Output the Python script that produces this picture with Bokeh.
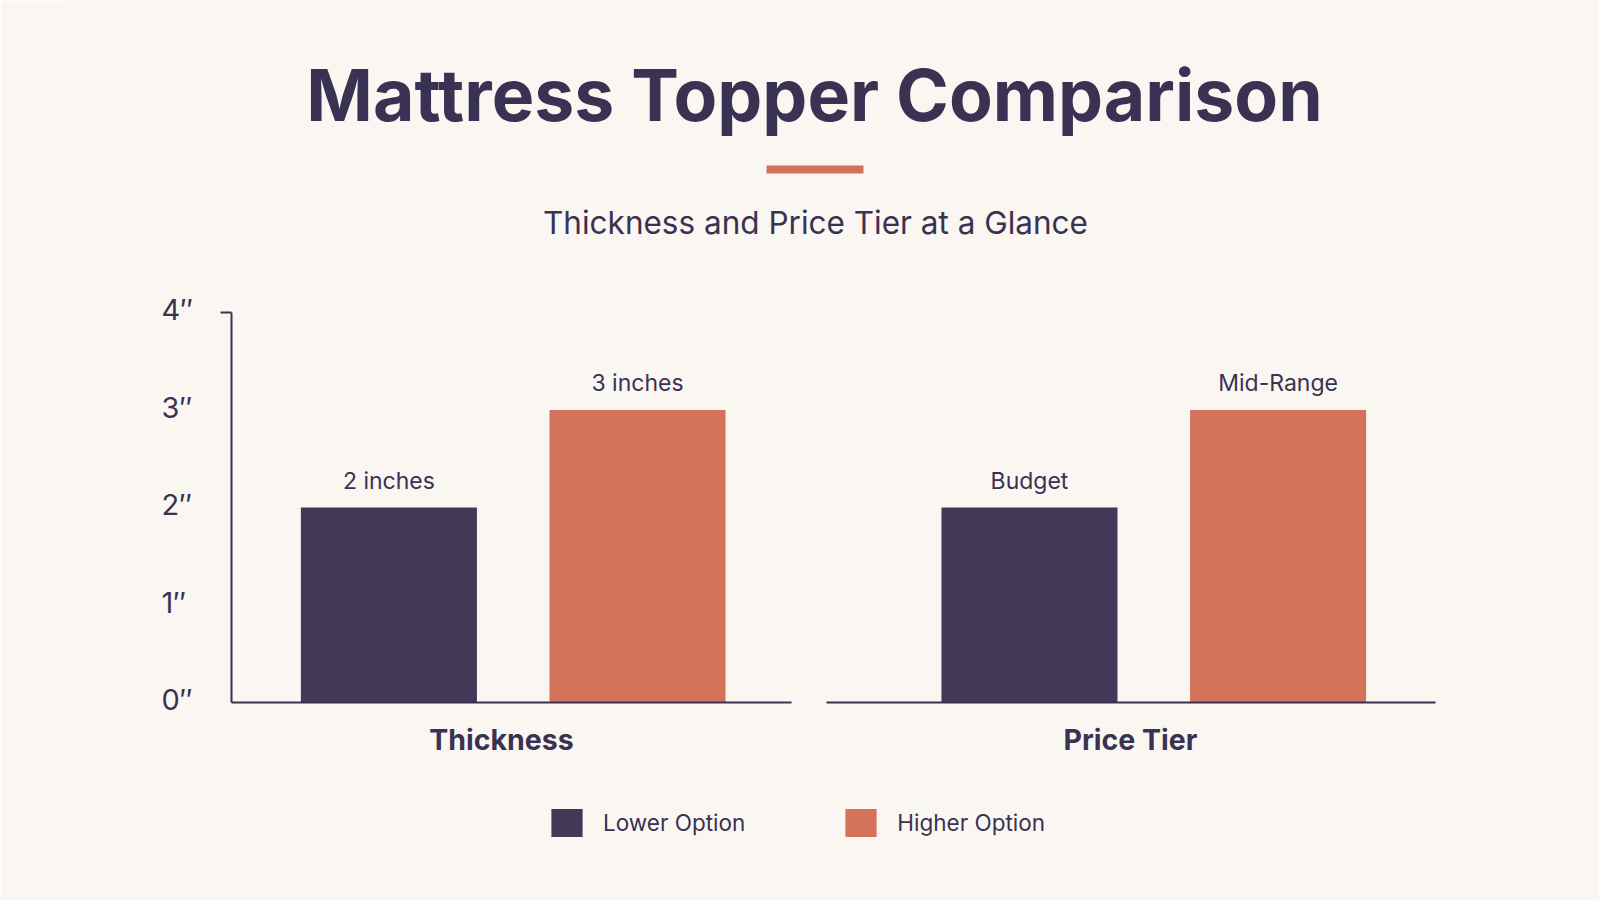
from bokeh.plotting import figure
from bokeh.models import (ColumnDataSource, FactorRange, Range1d,
                          Label, LabelSet, Legend, LegendItem, BoxAnnotation)
from bokeh.core.properties import value
from bokeh.embed import file_html
from bokeh.resources import INLINE

# ---- data -------------------------------------------------------------
groups = ["Thickness", "Price Tier"]
options = ["Lower", "Higher"]
legend_names = ["Lower Option", "Higher Option"]
lower_values = [2, 2]
higher_values = [3, 3]
lower_labels = ["2 inches", "Budget"]
higher_labels = ["3 inches", "Mid-Range"]
y_ticks = [0, 1, 2, 3, 4]
y_tick_labels = ["0\u2033", "1\u2033", "2\u2033", "3\u2033", "4\u2033"]

title_text = "Mattress Topper Comparison"
subtitle_text = "Thickness and Price Tier at a Glance"

# ---- style ------------------------------------------------------------
BG = "#faf7f2"
INK = "#3a3252"
DARK = "#433858"
ORANGE = "#d4725a"
FONT = "Inter"

# ---- page geometry (pixels) -------------------------------------------
W, H = 1599, 900
PX_PER_IN = 97.5
Y0 = 702                        # pixel row of the zero line
Y_TOP = max(y_ticks)

FACTOR_PAD, GROUP_PAD = 0.24, 0.955
UNIT_PX = 200.5                 # pixels per synthetic factor unit
FRAME_L = 67
BAR_W = 0.878

n_block = len(groups) * len(options) + len(groups) * (len(options) - 1) * FACTOR_PAD \
    + (len(groups) - 1) * GROUP_PAD
RANGE_PAD = ((W - FRAME_L) / UNIT_PX - n_block) / 2

factors = [(g, o) for g in groups for o in options]
x_range = FactorRange(*factors, factor_padding=FACTOR_PAD, group_padding=GROUP_PAD,
                      range_padding=RANGE_PAD, range_padding_units="absolute")
y_range = Range1d((Y0 - H) / PX_PER_IN, Y0 / PX_PER_IN)


def syn(px):
    """pixel column -> synthetic x coordinate of the factor range"""
    return -RANGE_PAD + (px - FRAME_L) / UNIT_PX


def sx(px):
    return px - FRAME_L


def sy(py):
    return H - py


p = figure(width=W, height=H, x_range=x_range, y_range=y_range,
           x_axis_location=None, y_axis_location=None,
           output_backend="svg", toolbar_location=None,
           min_border_left=FRAME_L, min_border_right=0,
           min_border_top=0, min_border_bottom=0,
           background_fill_color=BG, border_fill_color=BG,
           outline_line_color=None)
p.grid.visible = False

# bars
src_low = ColumnDataSource(dict(x=[(g, options[0]) for g in groups],
                                top=lower_values, label=lower_labels))
src_high = ColumnDataSource(dict(x=[(g, options[1]) for g in groups],
                                 top=higher_values, label=higher_labels))
r_low = p.vbar(x="x", top="top", width=BAR_W, source=src_low,
               fill_color=DARK, line_color=None)
r_high = p.vbar(x="x", top="top", width=BAR_W, source=src_high,
                fill_color=ORANGE, line_color=None)

# value labels above the bars
for src in (src_low, src_high):
    p.text(x="x", y="top", text="label", source=src, y_offset=-27,
           text_align="center", text_baseline="middle",
           text_font=value(FONT), text_font_size="23px", text_color=INK)

# y axis line with a short cap, and one baseline per panel
axis_src = ColumnDataSource(dict(
    x0=[syn(231), syn(220), syn(231), syn(826)],
    y0=[0, Y_TOP, 0, 0],
    x1=[syn(231), syn(231), syn(791), syn(1435)],
    y1=[Y_TOP, Y_TOP, 0, 0]))
p.segment(x0="x0", y0="y0", x1="x1", y1="y1", source=axis_src,
          line_color=INK, line_width=2)

# y tick labels
tick_src = ColumnDataSource(dict(x=[sx(161)] * len(y_ticks), y=y_ticks, t=y_tick_labels))
p.add_layout(LabelSet(x="x", y="y", text="t", source=tick_src,
                      x_units="screen", y_units="data", y_offset=3,
                      text_align="left", text_baseline="middle",
                      text_font=value(FONT), text_font_size="29px", text_color=INK))

# category names under each panel
cat_src = ColumnDataSource(dict(x=[sx(501), sx(1130)], y=[sy(739)] * 2, t=groups))
p.add_layout(LabelSet(x="x", y="y", text="t", source=cat_src,
                      x_units="screen", y_units="screen",
                      text_align="center", text_baseline="middle",
                      text_font=value(FONT), text_font_size="28.5px",
                      text_font_style="bold", text_color=INK))

# title block
p.add_layout(Label(x=sx(814), y=sy(94), x_units="screen", y_units="screen",
                   text=title_text, text_align="center", text_baseline="middle",
                   text_font=FONT, text_font_size="71.5px", text_font_style="bold",
                   text_color=INK))
p.add_layout(BoxAnnotation(left=sx(766), right=sx(863), top=sy(165), bottom=sy(173),
                           left_units="screen", right_units="screen",
                           top_units="screen", bottom_units="screen",
                           fill_color=ORANGE, fill_alpha=1, line_color=None))
p.add_layout(Label(x=sx(815), y=sy(221.5), x_units="screen", y_units="screen",
                   text=subtitle_text, text_align="center", text_baseline="middle",
                   text_font=FONT, text_font_size="31.5px", text_color=INK))

# legend (bar swatches are drawn at 80% of the glyph box)
legend = Legend(items=[LegendItem(label=legend_names[0], renderers=[r_low]),
                       LegendItem(label=legend_names[1], renderers=[r_high])],
                orientation="horizontal", location=(sx(547), sy(839.5)),
                glyph_width=39, glyph_height=35, label_height=35,
                label_standoff=17, spacing=96, padding=0, margin=0,
                border_line_color=None, background_fill_alpha=0,
                label_text_font=FONT, label_text_font_size="22.5px",
                label_text_color=INK)
p.add_layout(legend)

open("out.html", "w").write(file_html(p, INLINE))
